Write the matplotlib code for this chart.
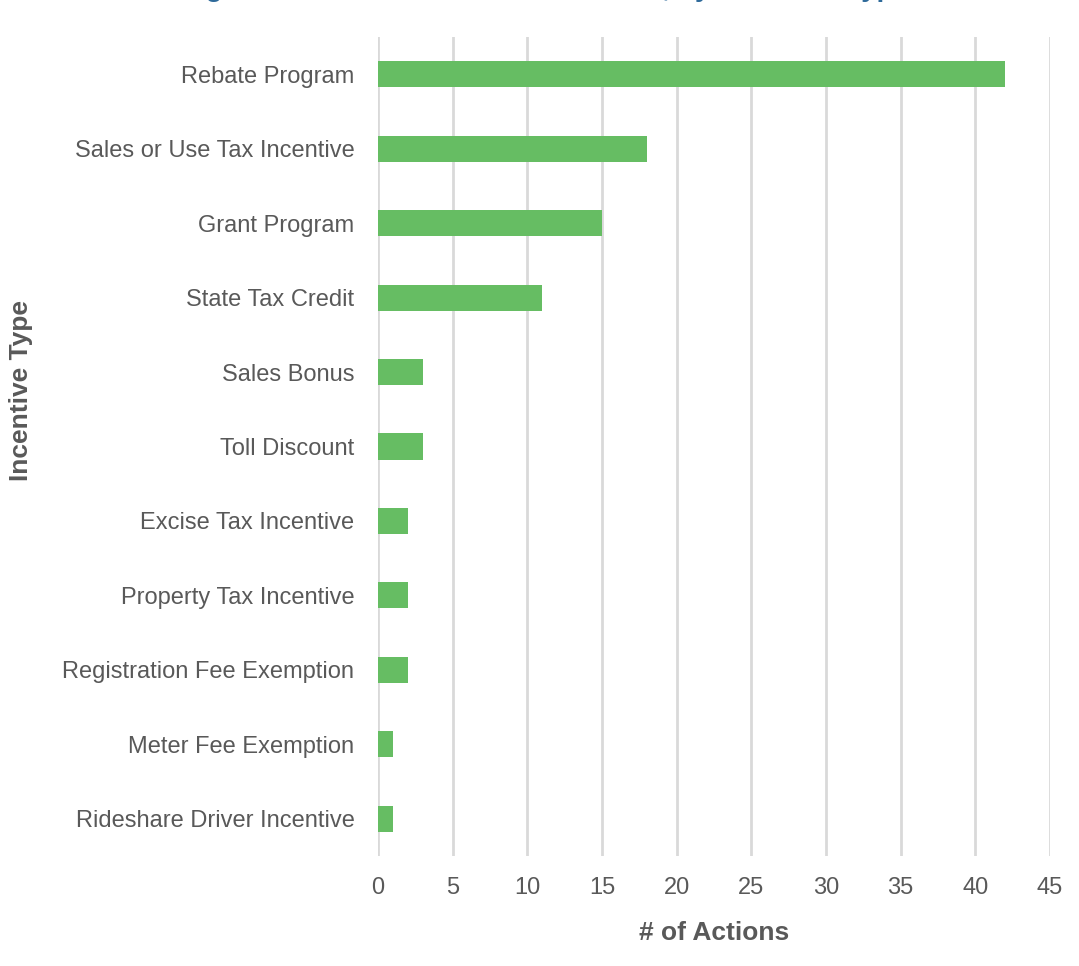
import matplotlib
matplotlib.use("Agg")
import matplotlib.pyplot as plt

plt.rcParams['font.family'] = ['Liberation Sans', 'DejaVu Sans']

TITLE = "Figure 4: Financial Incentive Actions, by Incentive Type"
categories = ["Rebate Program", "Sales or Use Tax Incentive", "Grant Program",
              "State Tax Credit", "Sales Bonus", "Toll Discount",
              "Excise Tax Incentive", "Property Tax Incentive",
              "Registration Fee Exemption", "Meter Fee Exemption",
              "Rideshare Driver Incentive"]
actions = [42, 18, 15, 11, 3, 3, 2, 2, 2, 1, 1]
x_ticks = [0, 5, 10, 15, 20, 25, 30, 35, 40, 45]

BAR_COLOR = "#66bd63"
TEXT_COLOR = "#595959"
GRID_COLOR = "#d9d9d9"
TITLE_COLOR = "#2e6a9a"

fig = plt.figure(figsize=(10.79, 9.66), dpi=100)
ax = fig.add_axes([378 / 1079, 1 - 856 / 966, 672 / 1079, (856 - 37) / 966])

ypos = list(range(len(categories)))
ax.barh(ypos, actions, height=0.35, color=BAR_COLOR, zorder=3)
ax.set_ylim(len(categories) - 0.5, -0.5)
ax.set_xlim(0, 45)
ax.set_yticks(ypos)
ax.set_yticklabels(categories)
ax.set_xticks(x_ticks)

ax.grid(axis='x', color=GRID_COLOR, linewidth=2, zorder=0)
for s in ax.spines.values():
    s.set_visible(False)
ax.tick_params(axis='both', length=0, labelsize=17, colors=TEXT_COLOR)
ax.tick_params(axis='y', pad=17)
ax.tick_params(axis='x', pad=15)

ax.set_xlabel("# of Actions", fontsize=19, fontweight='bold', color=TEXT_COLOR, labelpad=16)
ax.set_ylabel("Incentive Type", fontsize=19, fontweight='bold', color=TEXT_COLOR)
ax.yaxis.set_label_coords(-0.513, 0.568)

# title sits mostly above the canvas edge
fig.text(0.505, 1.0 + 4 / 966, TITLE, ha='center', va='baseline', fontsize=20,
         fontweight='bold', color=TITLE_COLOR)

fig.savefig("out.png", dpi=100)
